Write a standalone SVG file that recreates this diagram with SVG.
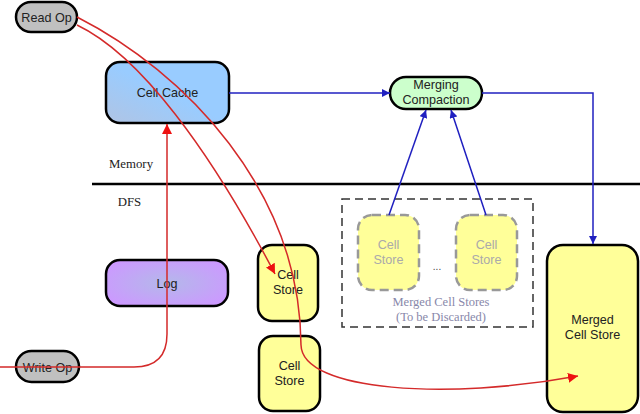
<svg xmlns="http://www.w3.org/2000/svg" width="640" height="414" viewBox="0 0 640 414">
<style>
.node{stroke:#000;stroke-width:2.5}
.t{font-family:"Liberation Sans",Arial,sans-serif;font-size:12.6px;fill:#222;text-anchor:middle}
.s{font-family:"Liberation Serif","Times New Roman",serif;font-size:12.8px;fill:#222;text-anchor:middle}
.faded{fill:#ffff99;stroke:#999;stroke-width:2.5;stroke-dasharray:9,5}
.ft{fill:#aaa}
.red{fill:none;stroke:#d42a2a;stroke-width:1.5}
.blue{fill:none;stroke:#2020c0;stroke-width:1.5}
</style>
<defs>
<linearGradient id="gCache" x1="1" y1="0" x2="0" y2="1">
<stop offset="0" stop-color="#99ccff"/><stop offset="0.5" stop-color="#99ccff"/><stop offset="1" stop-color="#b0c4e4"/>
</linearGradient>
<radialGradient id="gLog" cx="0.5" cy="0.5" r="0.6">
<stop offset="0" stop-color="#b4b8ea"/><stop offset="1" stop-color="#cc99ff"/>
</radialGradient>
<marker id="ar" viewBox="0 0 10 10" refX="10" refY="5" markerWidth="10" markerHeight="10" markerUnits="userSpaceOnUse" orient="auto">
<path d="M0,0 L10,5 L0,10 z" fill="#ee1111"/>
</marker>
<marker id="ab" viewBox="0 0 10 10" refX="10" refY="5" markerWidth="8" markerHeight="8" markerUnits="userSpaceOnUse" orient="auto">
<path d="M0,0 L10,5 L0,10 z" fill="#2020c0"/>
</marker>
</defs>
<rect width="640" height="414" fill="#fff"/>
<line x1="92" y1="184" x2="640" y2="184" stroke="#000" stroke-width="2.5"/>
<text class="s" x="131" y="168">Memory</text>
<text class="s" x="129.5" y="206">DFS</text>
<g id="merged-group">
<rect x="342" y="199" width="191" height="128" fill="none" stroke="#333" stroke-width="1.5" stroke-dasharray="8,5"/>
<text class="s" x="441" y="306" style="fill:#8888aa;font-size:12.5px">Merged Cell Stores</text>
<text class="s" x="441" y="321" style="fill:#8888aa;font-size:12.5px">(To be Discarded)</text>
<text class="t" x="437" y="270" style="fill:#444;font-size:10px">...</text>
</g>
<g id="read-op"><rect class="node" x="16" y="2" width="61" height="30" rx="15" fill="#c0c0c0"/><text class="t" x="46.5" y="21.5">Read Op</text></g>
<g id="write-op"><rect class="node" x="16" y="351" width="63" height="31" rx="15.5" fill="#c0c0c0"/><text class="t" x="47.5" y="371.5">Write Op</text></g>
<g id="cell-cache"><rect class="node" x="106" y="62" width="123" height="61" rx="14" fill="url(#gCache)"/><text class="t" x="167.5" y="96.5">Cell Cache</text></g>
<g id="merging-compaction"><rect class="node" x="390" y="77" width="92" height="32" rx="16" fill="#ccffcc"/><text class="t" x="436" y="89">Merging</text><text class="t" x="436" y="104">Compaction</text></g>
<g id="log"><rect class="node" x="106" y="260" width="122" height="46" rx="14" fill="url(#gLog)"/><text class="t" x="167" y="287.5">Log</text></g>
<g id="cell-store-1"><rect class="node" x="258" y="245" width="60" height="76" rx="14" fill="#ffff99"/><text class="t" x="288" y="279">Cell</text><text class="t" x="288" y="294">Store</text></g>
<g id="cell-store-2"><rect class="node" x="259" y="336" width="61" height="75" rx="14" fill="#ffff99"/><text class="t" x="289.5" y="370">Cell</text><text class="t" x="289.5" y="385">Store</text></g>
<g id="faded-store-1"><rect class="faded" x="358" y="215" width="61" height="75" rx="14"/><text class="t ft" x="388.5" y="249">Cell</text><text class="t ft" x="388.5" y="264">Store</text></g>
<g id="faded-store-2"><rect class="faded" x="456" y="215" width="61" height="75" rx="14"/><text class="t ft" x="486.5" y="249">Cell</text><text class="t ft" x="486.5" y="264">Store</text></g>
<g id="merged-cell-store"><rect class="node" x="547" y="245" width="91" height="167" rx="16" fill="#ffff99"/><text class="t" x="592.5" y="324">Merged</text><text class="t" x="592.5" y="339">Cell Store</text></g>
<g id="connectors">
<path class="blue" d="M229,93 H390" marker-end="url(#ab)"/>
<path class="blue" d="M482,93 H593 V244" marker-end="url(#ab)"/>
<path class="blue" d="M389,215 L426,110" marker-end="url(#ab)"/>
<path class="blue" d="M486,215 L451,110" marker-end="url(#ab)"/>
<path class="red" d="M0,367 H134 Q167,367 167,334 V124" marker-end="url(#ar)"/>
<path class="red" d="M77,25 C140,55 210,150 275,274" marker-end="url(#ar)"/>
<path class="red" d="M77,17 C185,72 300,190 301,345 C302,392 450,400 578,376" marker-end="url(#ar)"/>
</g>
</svg>
